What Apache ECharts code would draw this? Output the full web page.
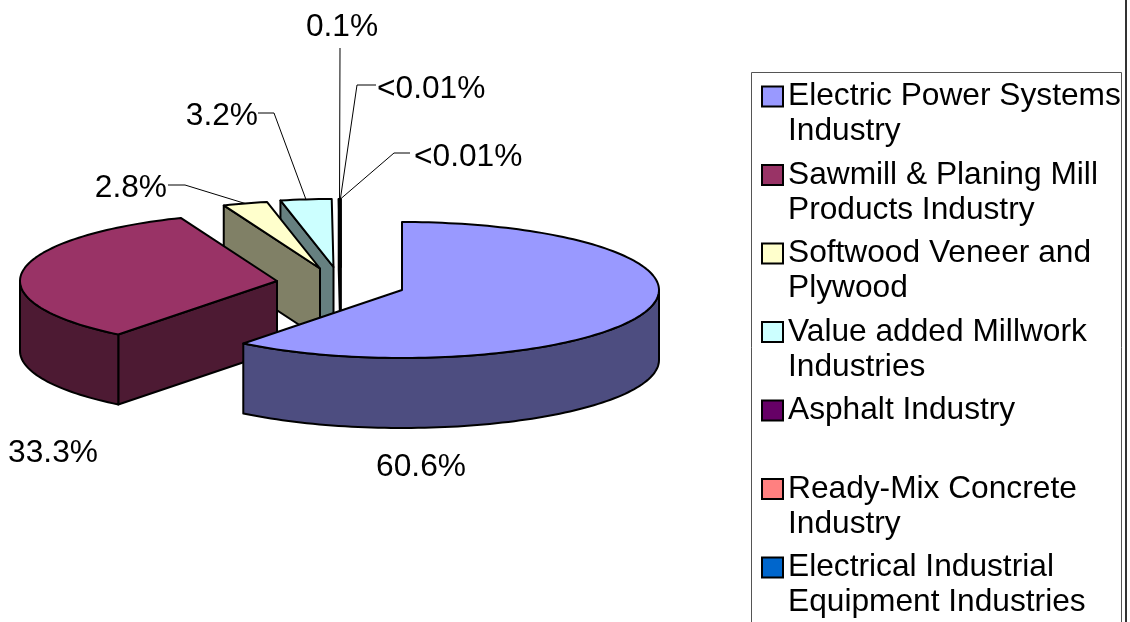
<!DOCTYPE html>
<html>
<head>
<meta charset="utf-8">
<style>
html,body{margin:0;padding:0;background:#fff;}
#main{width:1130px;height:622px;}
</style>
<script src="https://cdn.jsdelivr.net/npm/echarts@6/dist/echarts.min.js"></script>
</head>
<body>
<div id="main"></div>
<script>
// values (share of total, %)
const categories=[
    "Electric Power Systems\nIndustry",
    "Sawmill & Planing Mill\nProducts Industry",
    "Softwood Veneer and\nPlywood",
    "Value added Millwork\nIndustries",
    "Asphalt Industry\n ",
    "Ready-Mix Concrete\nIndustry",
    "Electrical Industrial\nEquipment Industries"
];
const shares=[60.6,33.3,2.8,3.2,0.1,0.005,0.005];
const shareLabels=["60.6%","33.3%","2.8%","3.2%","0.1%","<0.01%","<0.01%"];

const topColors=["#9999ff","#993366","#ffffcc","#ccffff","#660066","#ff8080","#0066cc"];
const sideColors=["#4d4d80","#4d1a33","#808066","#668080","#330033","#804040","#003366"];

// pie geometry in pixels, the hidden axes below turn it into a scale
const cx=402,cy=290,rx=257,ry=68,depth=70/68;
// how far each slice is pulled out, in radii from the blue slice centre
const explode=[[0,0],[-125/rx,-9/ry],[-82/rx,-21.5/ry],[-68.5/rx,-23/ry],[-61.5/rx,-23/ry],[-61.5/rx,-23/ry],[-61.5/rx,-23/ry]];
// back slices first
const drawOrder=[3,4,5,6,2,1,0].reduce((o,s,i)=>{o[s]=i+1;return o;},{});

const total=shares.reduce((a,b)=>a+b,0);
const starts=[];
shares.reduce((sum,v,i)=>{starts[i]=sum/total*360;return sum+v;},0);

const rad=d=>d*Math.PI/180;

function rimPoint(i,deg,drop){
    return [
        explode[i][0]+Math.sin(rad(deg)),
        explode[i][1]-Math.cos(rad(deg))+(drop||0)
    ];
}

function arc(i,from,to,drop){
    const pts=[];
    const n=Math.max(2,Math.ceil(Math.abs(to-from)/1.5));
    for(let k=0;k<=n;k++){
        pts.push(rimPoint(i,from+(to-from)*k/n,drop));
    }
    return pts;
}

function sliceItem(i){
    return function(params,api){
        const a0=starts[i];
        const a1=a0+shares[i]/total*360;
        const centre=[explode[i][0],explode[i][1]];
        const px=p=>api.coord(p);
        const line={stroke:"#000",lineWidth:2,lineJoin:"round"};
        const children=[];
        // cut face
        if(Math.sin(rad(a0))<0){
            children.push({
                type:"polygon",
                shape:{points:[centre,rimPoint(i,a0),rimPoint(i,a0,depth),[centre[0],centre[1]+depth]].map(px)},
                style:Object.assign({fill:sideColors[i]},line)
            });
        }
        // outer wall, only the front half of the rim shows
        const w0=Math.max(a0,90),w1=Math.min(a1,270);
        if(w1>w0){
            const pts=arc(i,w0,w1,0).concat(arc(i,w1,w0,depth));
            children.push({
                type:"polygon",
                shape:{points:pts.map(px)},
                style:Object.assign({fill:sideColors[i]},line)
            });
        }
        // top
        children.push({
            type:"polygon",
            shape:{points:[centre].concat(arc(i,a0,a1,0)).map(px)},
            style:Object.assign({fill:topColors[i]},line)
        });
        return {type:"group",children:children};
    };
}

// label spots in pixels: [x, y, align, elbow x, elbow y]
const labelSpots=[
    [421,467,"center"],
    [53,453,"center"],
    [167,188,"right",185,185],
    [258,116,"right",274,113],
    [342,27,"center",340,48],
    [377,89,"left",357,85],
    [414,157,"left",394,153]
];
const leaderStart=[null,null,168,258,null,376,410];

function labelItem(params,api){
    const i=params.dataIndex;
    const s=labelSpots[i];
    const children=[];
    if(s[3]!==undefined){
        const mid=starts[i]+shares[i]/total*180;
        const end=api.coord(rimPoint(i,mid));
        const pts=leaderStart[i]===null
            ?[[s[3],s[4]],end]
            :[[leaderStart[i],s[4]],[s[3],s[4]],end];
        children.push({
            type:"polyline",
            shape:{points:pts},
            style:{fill:null,stroke:"#000",lineWidth:1}
        });
    }
    children.push({
        type:"text",
        x:s[0],
        y:s[1],
        style:{
            text:shareLabels[i],
            fill:"#000",
            font:"31.7px 'Liberation Sans'",
            align:s[2],
            verticalAlign:"middle"
        }
    });
    return {type:"group",children:children};
}

const sliceSeries=categories.map((name,i)=>({
    type:"custom",
    name:name,
    z:drawOrder[i],
    silent:true,
    itemStyle:{color:topColors[i],borderColor:"#000",borderWidth:2},
    data:[[shares[i]]],
    renderItem:sliceItem(i)
}));

const chart=echarts.init(document.getElementById("main"),null,{renderer:"canvas"});

chart.setOption({
    animation:false,
    backgroundColor:"#fff",
    grid:{left:0,right:0,top:0,bottom:0},
    xAxis:{type:"value",show:false,min:-cx/rx,max:(1130-cx)/rx},
    yAxis:{type:"value",show:false,inverse:true,min:-cy/ry,max:(622-cy)/ry},
    legend:{
        orient:"vertical",
        left:761,
        top:40.5,
        height:800,
        padding:0,
        itemGap:78.5-112,
        itemWidth:21,
        itemHeight:20,
        icon:"rect",
        selectedMode:false,
        data:categories,
        // blank first line keeps the swatch level with the first text line
        formatter:n=>"\n"+n,
        textStyle:{
            color:"#000",
            fontFamily:"Liberation Sans",
            fontSize:31.7,
            lineHeight:35,
            padding:[7,0,0,0]
        }
    },
    graphic:[
        {type:"rect",z:0,shape:{x:751.5,y:72.5,width:370,height:600},style:{fill:"#fff",stroke:"#555",lineWidth:1}},
        {type:"rect",z:0,shape:{x:1125,y:0,width:2,height:622},style:{fill:"#333"}}
    ],
    series:sliceSeries.concat([{
        type:"custom",
        name:"labels",
        z:20,
        silent:true,
        data:shares.map(v=>[v]),
        renderItem:labelItem
    }])
});

window.addEventListener("resize",()=>chart.resize());
</script>
</body>
</html>
